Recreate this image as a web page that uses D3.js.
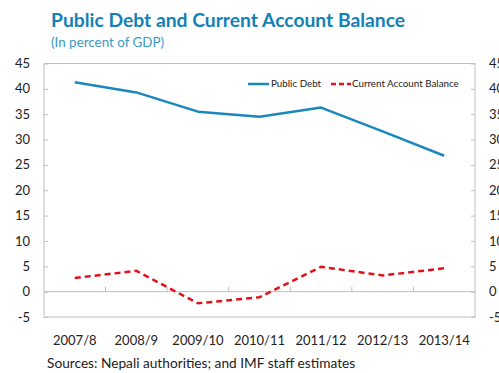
<!DOCTYPE html>
<html>
<head>
<meta charset="utf-8">
<script src="https://cdn.jsdelivr.net/npm/d3@7/dist/d3.min.js"></script>
<style>
  html, body { margin: 0; padding: 0; background: #fff; }
  svg { display: block; font-family: Lato, "Open Sans", sans-serif; }
</style>
</head>
<body>
<svg id="chart" width="499" height="373"></svg>
<script>
// Fiscal years shown on the category axis
const years = ["2007/8", "2008/9", "2009/10", "2010/11", "2011/12", "2012/13", "2013/14"];
// Public debt, percent of GDP
const publicDebt = [41.3, 39.3, 35.5, 34.5, 36.3, 31.6, 26.8];
// Current account balance, percent of GDP
const currentAccount = [2.7, 4.1, -2.3, -1.1, 4.9, 3.2, 4.6];
// Value-axis ticks (same on both sides)
const yTicks = [-5, 0, 5, 10, 15, 20, 25, 30, 35, 40, 45];

const svg = d3.select("#chart");
const plotL = 44, plotR = 475, plotT = 63.5, plotB = 317;

const x = d3.scaleBand().domain(years).range([plotL, plotR]);
const y = d3.scaleLinear().domain([-5, 45]).range([plotB, plotT]);
const cx = d => x(d) + x.bandwidth() / 2;

const gray = "#bfbfbf";

// Title block
svg.append("text")
  .attr("x", 51).attr("y", 27)
  .attr("fill", "#1481b6")
  .attr("font-size", 19.3).attr("font-weight", 700)
  .text("Public Debt and Current Account Balance");
svg.append("text")
  .attr("x", 51).attr("y", 47)
  .attr("fill", "#3a9ac6")
  .attr("font-size", 13.4)
  .text("(In percent of GDP)");

// Plot frame
svg.append("rect")
  .attr("x", plotL).attr("y", plotT)
  .attr("width", plotR - plotL).attr("height", plotB - plotT)
  .attr("fill", "none").attr("stroke", gray).attr("stroke-width", 1);

// Left value axis: ticks point into the plot
const yLeft = svg.append("g").attr("transform", `translate(${plotL},0)`)
  .call(d3.axisRight(y).tickValues(yTicks).tickSize(4).tickFormat(""));
yLeft.select(".domain").remove();
yLeft.selectAll("line").attr("stroke", gray);

svg.append("g").selectAll("text").data(yTicks).join("text")
  .attr("x", 30).attr("y", d => y(d))
  .attr("dy", "0.35em").attr("text-anchor", "end")
  .attr("font-size", 13).attr("fill", "#222")
  .text(d => d);

// Right value axis
const yRight = svg.append("g").attr("transform", `translate(${plotR},0)`)
  .call(d3.axisLeft(y).tickValues(yTicks).tickSize(4).tickFormat(""));
yRight.select(".domain").remove();
yRight.selectAll("line").attr("stroke", gray);

svg.append("g").selectAll("text").data(yTicks).join("text")
  .attr("x", 489).attr("y", d => y(d))
  .attr("dy", "0.35em").attr("text-anchor", "start")
  .attr("font-size", 13).attr("fill", "#222")
  .text(d => d);

// Category axis along zero, with ticks between categories pointing up
const xAxis = svg.append("g").attr("transform", `translate(0,${y(0)})`)
  .call(d3.axisTop(x).tickSize(0).tickFormat(""));
xAxis.select(".domain").attr("stroke", gray).attr("d", `M${plotL},0H${plotR}`);
svg.append("g").selectAll("line").data(years.slice(1)).join("line")
  .attr("x1", d => x(d)).attr("x2", d => x(d))
  .attr("y1", y(0)).attr("y2", y(0) - 5)
  .attr("stroke", gray);

svg.append("g").selectAll("text").data(years).join("text")
  .attr("x", d => cx(d)).attr("y", 340)
  .attr("dy", "0.35em").attr("text-anchor", "middle")
  .attr("font-size", 13).attr("fill", "#222")
  .text(d => d);

// Series lines
const line = d3.line().x((d, i) => cx(years[i])).y(d => y(d));

svg.append("path").datum(publicDebt)
  .attr("d", line).attr("fill", "none")
  .attr("stroke", "#1a87bd").attr("stroke-width", 2.5)
  .attr("stroke-linejoin", "round");

svg.append("path").datum(currentAccount)
  .attr("d", line).attr("fill", "none")
  .attr("stroke", "#e3101a").attr("stroke-width", 2.5)
  .attr("stroke-dasharray", "6,4");

// Legend
const legend = svg.append("g").attr("font-size", 9.8).attr("fill", "#222");
legend.append("line").attr("x1", 248).attr("x2", 269).attr("y1", 84).attr("y2", 84)
  .attr("stroke", "#1a87bd").attr("stroke-width", 2.5);
legend.append("text").attr("x", 271).attr("y", 84).attr("dy", "0.35em").text("Public Debt");
legend.append("line").attr("x1", 331).attr("x2", 351).attr("y1", 84).attr("y2", 84)
  .attr("stroke", "#e3101a").attr("stroke-width", 2.5).attr("stroke-dasharray", "5,3");
legend.append("text").attr("x", 352).attr("y", 84).attr("dy", "0.35em").text("Current Account Balance");

// Source note
svg.append("text")
  .attr("x", 47).attr("y", 368)
  .attr("font-size", 13.7).attr("fill", "#222")
  .text("Sources: Nepali authorities; and IMF staff estimates");
</script>
</body>
</html>
